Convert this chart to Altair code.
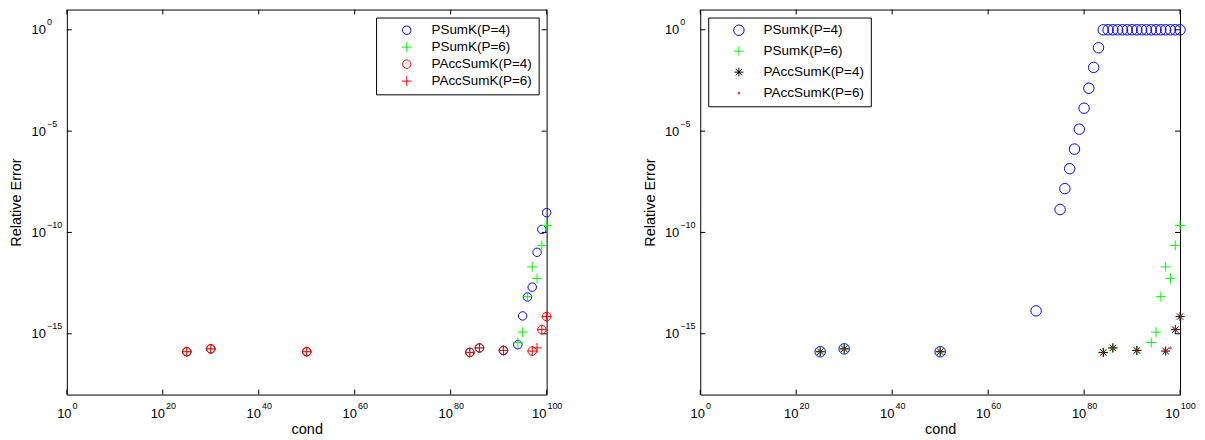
import altair as alt
import pandas as pd

# ---------------- data ----------------
series_names = ["PSumK(P=4)", "PSumK(P=6)", "PAccSumK(P=4)", "PAccSumK(P=6)"]

# left panel
L_psum4_cond = [1e25, 1e30, 1e50, 1e84, 1e86, 1e91, 1e94, 1e95, 1e96, 1e97, 1e98, 1e99, 1e100]
L_psum4_err = [1.3e-16, 1.8e-16, 1.3e-16, 1.2e-16, 2.0e-16, 1.5e-16, 2.9e-16, 7.6e-15, 6.5e-14, 2.0e-13, 1.05e-11, 1.4e-10, 9.5e-10]

psum6_cond = [1e25, 1e30, 1e50, 1e84, 1e86, 1e91, 1e94, 1e95, 1e96, 1e97, 1e98, 1e99, 1e100]
psum6_err = [1.3e-16, 1.8e-16, 1.3e-16, 1.2e-16, 2.0e-16, 1.5e-16, 3.7e-16, 1.2e-15, 6.8e-14, 2.0e-12, 5.4e-13, 2.3e-11, 2.2e-10]

pacc4_cond = [1e25, 1e30, 1e50, 1e84, 1e86, 1e91, 1e97, 1e99, 1e100]
pacc4_err = [1.3e-16, 1.8e-16, 1.3e-16, 1.2e-16, 2.0e-16, 1.5e-16, 1.4e-16, 1.6e-15, 7.1e-15]

pacc6_cond = [1e25, 1e30, 1e50, 1e84, 1e86, 1e91, 1e97, 1e98, 1e99, 1e100]
pacc6_err = [1.3e-16, 1.8e-16, 1.3e-16, 1.2e-16, 2.0e-16, 1.5e-16, 1.4e-16, 2.0e-16, 1.6e-15, 7.1e-15]

# right panel (PSumK P=4 differs)
R_psum4_cond = [1e25, 1e30, 1e50, 1e70, 1e75, 1e76, 1e77, 1e78, 1e79, 1e80, 1e81, 1e82, 1e83,
                1e84, 1e85, 1e86, 1e87, 1e88, 1e89, 1e90, 1e91, 1e92, 1e93, 1e94, 1e95, 1e96,
                1e97, 1e98, 1e99, 1e100]
R_psum4_err = [1.3e-16, 1.8e-16, 1.3e-16, 1.35e-14, 1.35e-9, 1.45e-8, 1.4e-7, 1.3e-6, 1.25e-5,
               1.35e-4, 1.3e-3, 1.4e-2, 1.3e-1,
               1, 1, 1, 1, 1, 1, 1, 1, 1, 1, 1, 1, 1, 1, 1, 1, 1]

x_tick_exps = [0, 20, 40, 60, 80, 100]
y_tick_exps = [0, -5, -10, -15]
x_domain = [1e0, 1e100]
y_domain = [1e-18, 1e1]

# ---------------- styling ----------------
FONT = "Liberation Sans"
W, H = 481, 386
BASE_FS, EXP_FS = 13, 9

PLUS = "M-1,0L1,0M0,-1L0,1"
STAR = "M-1,0L1,0M0,-1L0,1M-0.72,-0.72L0.72,0.72M-0.72,0.72L0.72,-0.72"


def make_df(pairs):
    rows = []
    for name, (xs, ys) in zip(series_names, pairs):
        for x, y in zip(xs, ys):
            rows.append({"series": name, "cond": x, "err": y})
    df = pd.DataFrame(rows)
    df["order"] = df["series"].map({n: i for i, n in enumerate(series_names)})
    return df


def tick_labels(xs, ys):
    layers = []
    txt = dict(font=FONT, color="black", baseline="middle")
    # x-axis labels: "10" + raised exponent, the pair centred on the tick
    for e in x_tick_exps:
        d = pd.DataFrame({"v": [10.0 ** e], "b": ["10"], "e": [str(e)]})
        exp_w = 5.0 * len(str(e))
        shift = (14.5 - exp_w) / 2.0
        layers.append(alt.Chart(d).mark_text(align="right", fontSize=BASE_FS, dx=shift, **txt).encode(
            x=alt.X("v:Q", scale=xs), y=alt.value(H + 19), text="b:N"))
        layers.append(alt.Chart(d).mark_text(align="left", fontSize=EXP_FS, dx=shift + 1, **txt).encode(
            x=alt.X("v:Q", scale=xs), y=alt.value(H + 11), text="e:N"))
    # y-axis labels: "10" at a fixed column, exponent hanging to the right
    yd = pd.DataFrame({"v": [10.0 ** e for e in y_tick_exps], "b": ["10"] * len(y_tick_exps),
                       "e": [str(e).replace("-", "\u2212") for e in y_tick_exps]})
    layers.append(alt.Chart(yd).mark_text(align="right", fontSize=BASE_FS, dy=0.5, **txt).encode(
        y=alt.Y("v:Q", scale=ys), x=alt.value(-21), text="b:N"))
    layers.append(alt.Chart(yd).mark_text(align="left", fontSize=EXP_FS, dy=-7.5, **txt).encode(
        y=alt.Y("v:Q", scale=ys), x=alt.value(-20), text="e:N"))
    return layers


def panel(df, colors, shapes, sizes, legend_orient, row_pad, pad):
    xs = alt.Scale(type="log", domain=x_domain, nice=False)
    ys = alt.Scale(type="log", domain=y_domain, nice=False)
    leg = alt.Legend(
        title=None, orient=legend_orient, offset=8, strokeColor="black",
        fillColor="white", padding=pad, rowPadding=row_pad,
        symbolOffset=18, labelOffset=18,
        labelFont=FONT, labelFontSize=13.5, labelColor="black",
        symbolStrokeWidth=1, cornerRadius=0,
    )
    pts = alt.Chart(df).mark_point(filled=False, strokeWidth=1, opacity=1).encode(
        x=alt.X("cond:Q", scale=xs, title="cond",
                axis=alt.Axis(values=[10.0 ** e for e in x_tick_exps], labels=False,
                              ticks=False, domain=False, grid=False,
                              titleFont=FONT, titleFontSize=14.5,
                              titleFontWeight="normal", titleColor="black",
                              titlePadding=28)),
        y=alt.Y("err:Q", scale=ys, title="Relative Error",
                axis=alt.Axis(values=[10.0 ** e for e in y_tick_exps], labels=False,
                              ticks=False, domain=False, grid=False,
                              titleFont=FONT, titleFontSize=14.5,
                              titleFontWeight="normal", titleColor="black",
                              titlePadding=43)),
        color=alt.Color("series:N", scale=alt.Scale(domain=series_names, range=colors), legend=leg),
        shape=alt.Shape("series:N", scale=alt.Scale(domain=series_names, range=shapes), legend=leg),
        size=alt.Size("series:N", scale=alt.Scale(type="ordinal", domain=series_names, range=sizes),
                      legend=leg),
        order=alt.Order("order:Q"),
    )
    xt = pd.DataFrame({"v": [10.0 ** e for e in x_tick_exps]})
    yt = pd.DataFrame({"v": [10.0 ** e for e in y_tick_exps]})
    tick_style = dict(color="black", strokeWidth=1)
    xb = alt.Chart(xt).mark_rule(**tick_style).encode(
        x=alt.X("v:Q", scale=xs), y=alt.value(H), y2=alt.value(H - 5))
    xtp = alt.Chart(xt).mark_rule(**tick_style).encode(
        x=alt.X("v:Q", scale=xs), y=alt.value(0), y2=alt.value(5))
    yl = alt.Chart(yt).mark_rule(**tick_style).encode(
        y=alt.Y("v:Q", scale=ys), x=alt.value(0), x2=alt.value(5))
    yr = alt.Chart(yt).mark_rule(**tick_style).encode(
        y=alt.Y("v:Q", scale=ys), x=alt.value(W), x2=alt.value(W - 5))
    return alt.layer(xb, xtp, yl, yr, *tick_labels(xs, ys), pts).properties(width=W, height=H)


left_df = make_df([(L_psum4_cond, L_psum4_err), (psum6_cond, psum6_err),
                   (pacc4_cond, pacc4_err), (pacc6_cond, pacc6_err)])
right_df = make_df([(R_psum4_cond, R_psum4_err), (psum6_cond, psum6_err),
                    (pacc4_cond, pacc4_err), (pacc6_cond, pacc6_err)])

left = panel(left_df, ["#0000ff", "#00ff00", "#ff0000", "#ff0000"],
             ["circle", PLUS, "circle", PLUS], [72, 100, 72, 100], "top-right", 2, 6)
right = panel(right_df, ["#0000ff", "#00ff00", "#000000", "#ff0000"],
              ["circle", PLUS, STAR, "circle"], [110, 100, 80, 3.5], "top-left", 6, 6)

chart = alt.hconcat(left, right, spacing=78).resolve_scale(
    color="independent", shape="independent", size="independent"
).resolve_legend(color="independent", shape="independent", size="independent").properties(
    padding={"left": 0, "top": 0, "right": 0, "bottom": 0}
).configure_view(stroke="black", strokeWidth=1)

chart.save("out.html", embed_options={"renderer": "svg", "actions": False})
